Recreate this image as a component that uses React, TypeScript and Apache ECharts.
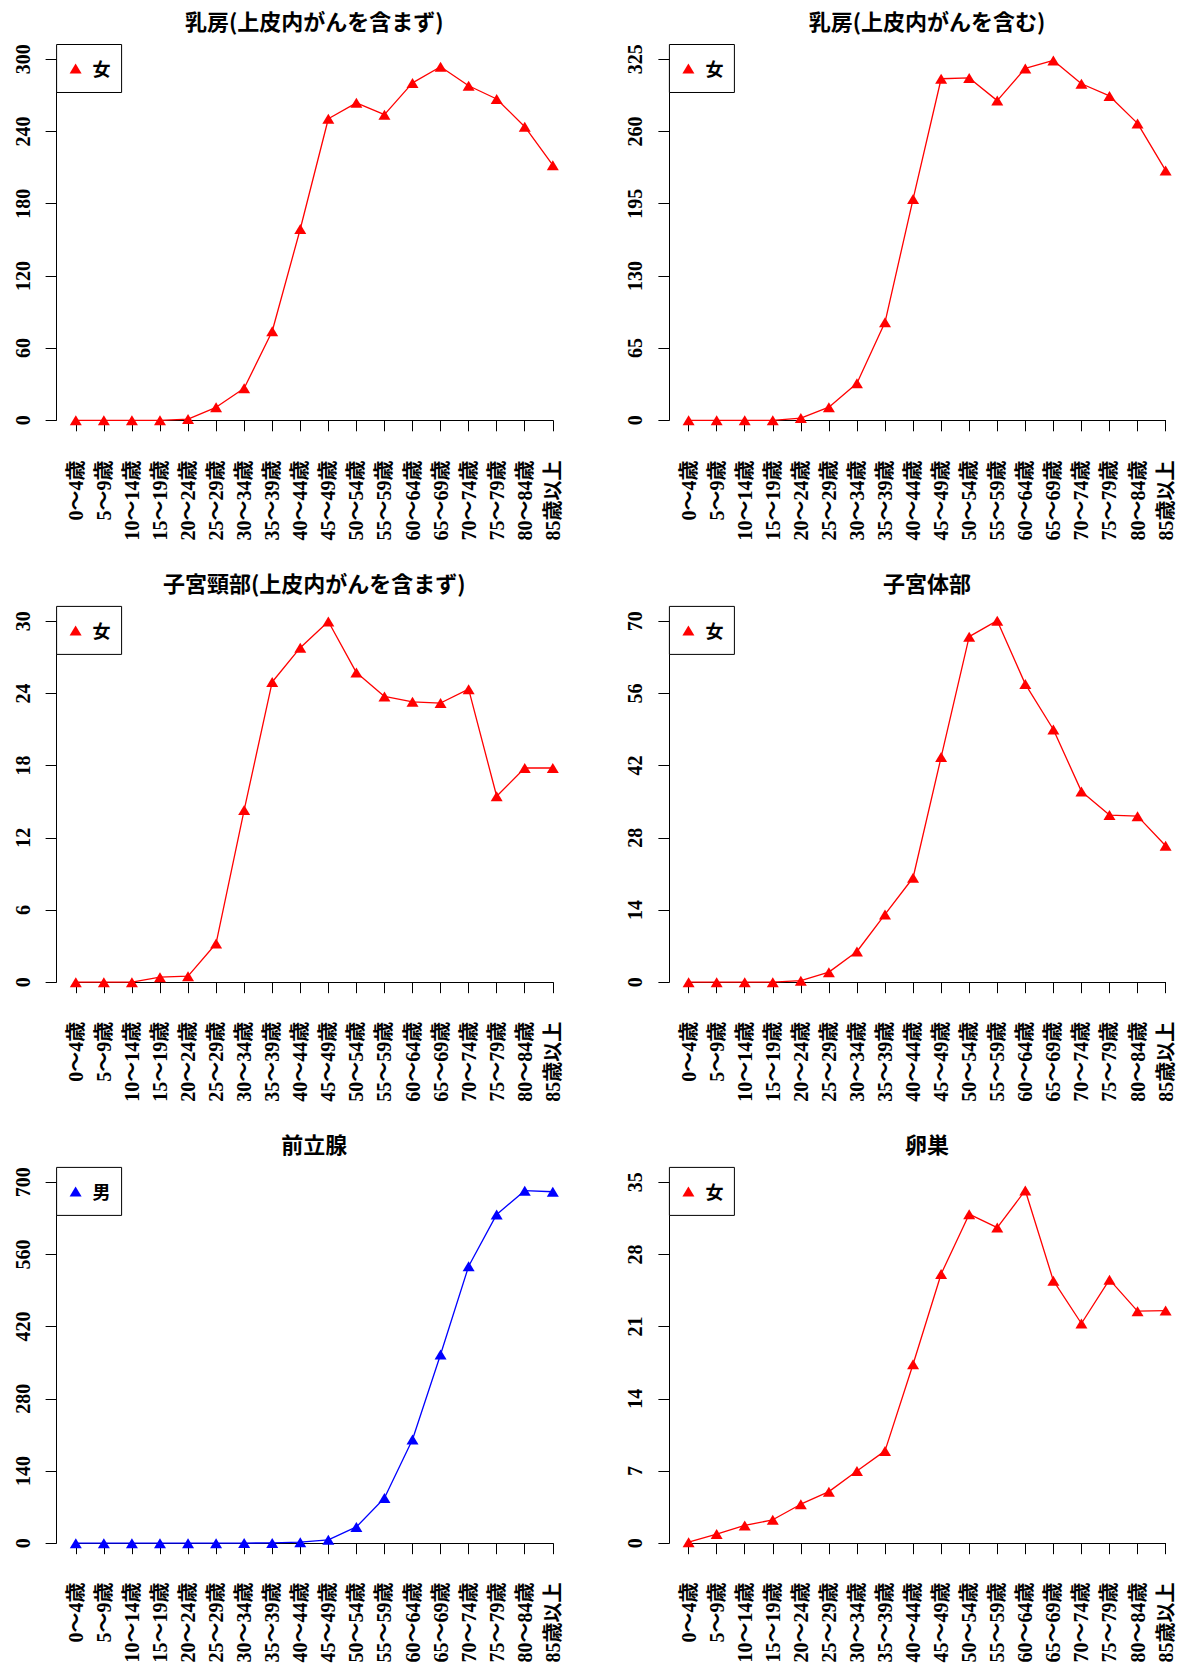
import React, { useEffect, useRef } from 'react';
import * as echarts from 'echarts';

// ---- data ----
const ageGroups = [
  '0〜4歳', '5〜9歳', '10〜14歳', '15〜19歳', '20〜24歳', '25〜29歳',
  '30〜34歳', '35〜39歳', '40〜44歳', '45〜49歳', '50〜54歳', '55〜59歳',
  '60〜64歳', '65〜69歳', '70〜74歳', '75〜79歳', '80〜84歳', '85歳以上',
];

const panelTitles = [
  '乳房(上皮内がんを含まず)',
  '乳房(上皮内がんを含む)',
  '子宮頸部(上皮内がんを含まず)',
  '子宮体部',
  '前立腺',
  '卵巣',
];
const sexLabels = ['女', '女', '女', '女', '男', '女'];
const yAxisMax = [300, 325, 30, 70, 700, 35];

const breastExclCIS = [0, 0, 0, 0, 1, 10.8, 26.6, 74, 159, 250.6, 263.8, 254, 280.4, 293.8, 278, 267, 244, 212];
const breastInclCIS = [0, 0, 0, 0, 2, 11.8, 33.4, 88.2, 199.2, 307.5, 308.2, 287.8, 316.8, 324, 303, 292, 267.3, 225];
const cervixExclCIS = [0, 0, 0, 0.42, 0.5, 3.22, 14.3, 24.95, 27.8, 29.97, 25.73, 23.75, 23.3, 23.2, 24.35, 15.45, 17.8, 17.8];
const uterineBody = [0, 0, 0, 0, 0.3, 1.95, 5.95, 13.15, 20.25, 43.65, 67, 70.1, 57.8, 49, 37, 32.4, 32.2, 26.45];
const prostate = [0, 0, 0, 0, 0, 0, 0.2, 0.6, 2, 6.5, 31.5, 87.5, 201, 366, 537, 637.5, 683.5, 681.5];
const ovary = [0.1, 0.88, 1.72, 2.27, 3.78, 5.0, 7.0, 8.95, 17.35, 26.1, 31.9, 30.6, 34.2, 25.45, 21.3, 25.55, 22.5, 22.55];

const panelValues = [breastExclCIS, breastInclCIS, cervixExclCIS, uterineBody, prostate, ovary];
const lineColors = ['#ff0000', '#ff0000', '#ff0000', '#ff0000', '#0000ff', '#ff0000'];

// ---- layout ----
const colGridLeft = [75.8, 688.6];
const gridWidth = 477;
const rowGridTop = [59.3, 621.2, 1182.2];
const gridHeight = 361;
const xAxisOffsets = [15.3, 14.5, 14.2];
const yAxisOffset = 19.2;

const serifFont = "'Liberation Serif', 'Times New Roman', 'Noto Sans CJK JP', serif";
const cjkFont = "'Noto Sans CJK JP', 'Noto Sans', sans-serif";

function buildOption() {
  const grid: any[] = [];
  const xAxis: any[] = [];
  const yAxis: any[] = [];
  const series: any[] = [];
  const title: any[] = [];
  const legend: any[] = [];

  for (let i = 0; i < 6; i++) {
    const col = i % 2;
    const row = Math.floor(i / 2);
    const left = colGridLeft[col];
    const top = rowGridTop[row];
    const axisLeftX = left - yAxisOffset;

    grid.push({ left, top, width: gridWidth, height: gridHeight });

    xAxis.push({
      type: 'category',
      gridIndex: i,
      data: ageGroups,
      boundaryGap: false,
      offset: xAxisOffsets[row],
      axisLine: { show: true, lineStyle: { color: '#000', width: 1 } },
      axisTick: { show: true, length: 11, interval: 0, lineStyle: { color: '#000', width: 1 } },
      axisLabel: {
        interval: 0,
        rotate: 90,
        margin: 25,
        color: '#000',
        fontSize: 20,
        fontWeight: 'bold',
        fontFamily: serifFont,
      },
      splitLine: { show: false },
    });

    yAxis.push({
      type: 'value',
      gridIndex: i,
      min: 0,
      max: yAxisMax[i],
      interval: yAxisMax[i] / 5,
      offset: yAxisOffset,
      axisLine: { show: true, lineStyle: { color: '#000', width: 1 } },
      axisTick: { show: true, length: 11, lineStyle: { color: '#000', width: 1 } },
      axisLabel: {
        rotate: 90,
        margin: 24,
        color: '#000',
        fontSize: 20,
        fontWeight: 'bold',
        fontFamily: serifFont,
      },
      splitLine: { show: false },
    });

    series.push({
      type: 'line',
      name: sexLabels[i],
      xAxisIndex: i,
      yAxisIndex: i,
      data: panelValues[i],
      symbol: 'triangle',
      symbolSize: [12, 10],
      showSymbol: true,
      clip: false,
      color: lineColors[i],
      itemStyle: { color: lineColors[i] },
      lineStyle: { color: lineColors[i], width: 1.3 },
      emphasis: { disabled: true },
    });

    title.push({
      text: panelTitles[i],
      left: axisLeftX + (gridWidth + 2 * yAxisOffset) / 2,
      top: top - 50,
      textAlign: 'center',
      padding: 0,
      textStyle: {
        fontFamily: cjkFont,
        fontWeight: 'bold',
        fontSize: 22,
        color: '#000',
      },
    });

    legend.push({
      left: axisLeftX,
      top: top - 14.8,
      orient: 'horizontal',
      data: [{ name: sexLabels[i], icon: 'triangle' }],
      itemWidth: 12,
      itemHeight: 10,
      symbolKeepAspect: false,
      borderColor: '#000',
      borderWidth: 1,
      borderRadius: 0,
      backgroundColor: '#fff',
      padding: [15, 11, 15, 13],
      selectedMode: false,
      textStyle: {
        fontFamily: cjkFont,
        fontWeight: 'bold',
        fontSize: 18,
        color: '#000',
        padding: [0, 0, 0, 6],
      },
    });
  }

  return {
    animation: false,
    backgroundColor: '#fff',
    title,
    legend,
    grid,
    xAxis,
    yAxis,
    series,
  };
}

export default function App() {
  const ref = useRef<HTMLDivElement>(null);

  useEffect(() => {
    document.body.style.margin = '0';
    if (!ref.current) return;
    const chart = echarts.init(ref.current, undefined, { renderer: 'svg' });
    chart.setOption(buildOption() as any);
    return () => {
      chart.dispose();
    };
  }, []);

  return <div ref={ref} style={{ width: 1184, height: 1671, background: '#fff' }} />;
}
